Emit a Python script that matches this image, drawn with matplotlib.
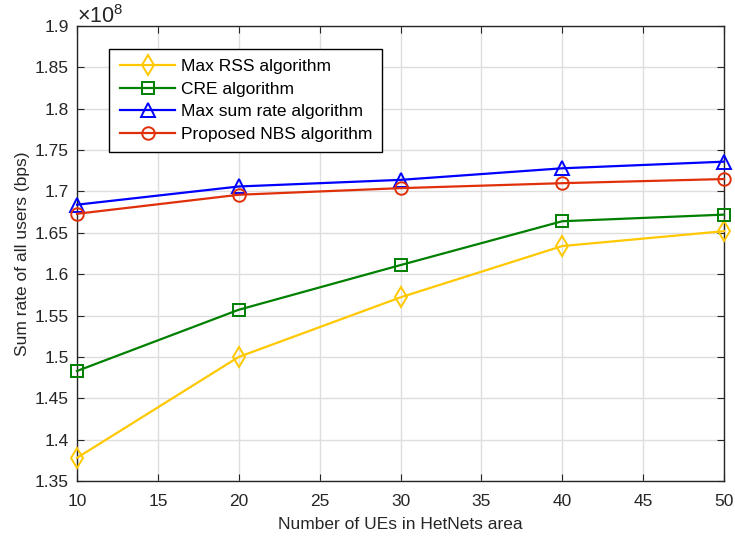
import numpy as np
import matplotlib.pyplot as plt
from matplotlib.ticker import MultipleLocator, FuncFormatter

plt.rcParams['font.family'] = ['Liberation Sans', 'DejaVu Sans']
plt.rcParams['mathtext.fontset'] = 'custom'
plt.rcParams['mathtext.rm'] = 'Liberation Sans'

# number of UEs and sum rate (in units of 1e8 bps)
num_ues = [10, 20, 30, 40, 50]
max_rss = [1.378, 1.500, 1.572, 1.634, 1.652]
cre = [1.483, 1.557, 1.611, 1.664, 1.672]
max_sum_rate = [1.684, 1.706, 1.714, 1.728, 1.736]
proposed_nbs = [1.673, 1.696, 1.704, 1.710, 1.715]

labels = ['Max RSS algorithm', 'CRE algorithm',
          'Max sum rate algorithm', 'Proposed NBS algorithm']
series = [max_rss, cre, max_sum_rate, proposed_nbs]
colors = ['#FFC800', '#008000', '#0000FF', '#E0300A']
markers = ['d', 's', '^', 'o']
msizes = [10, 8, 10, 9]

fig = plt.figure(figsize=(7.35, 5.41), dpi=100)
ax = fig.add_axes([77 / 735, 1 - 481 / 541, 647 / 735, 455 / 541])

for vals, lab, c, m, ms in zip(series, labels, colors, markers, msizes):
    ax.plot(num_ues, np.array(vals) * 1e8, color=c, marker=m, markersize=ms,
            markerfacecolor='none', markeredgewidth=1.4, linewidth=1.6,
            label=lab, clip_on=False, zorder=3)

ax.set_xlim(10, 50)
ax.set_ylim(1.35e8, 1.9e8)
ax.xaxis.set_major_locator(MultipleLocator(5))
ax.yaxis.set_major_locator(MultipleLocator(0.05e8))
ax.yaxis.set_major_formatter(FuncFormatter(lambda v, p: ('%.2f' % (v / 1e8)).rstrip('0').rstrip('.')))
# scale factor above the y axis
ax.text(0.0, 1.007, r'$\times\mathregular{10^{8}}$', transform=ax.transAxes,
        fontsize=15.5, color='#262626', ha='left', va='baseline')

ax.grid(True, color='#DEDEDE', linewidth=1.0)
ax.set_axisbelow(True)
ax.tick_params(direction='in', top=True, right=True, labelsize=12.5,
               colors='#262626', length=5)
ax.tick_params(axis='x', pad=9)
ax.tick_params(axis='y', pad=6)
for s in ax.spines.values():
    s.set_color('#262626')
    s.set_linewidth(1.0)

ax.set_xlabel('Number of UEs in HetNets area', fontsize=12.5, color='#262626',
              labelpad=6)
ax.set_ylabel('Sum rate of all users (bps)', fontsize=12.5, color='#262626',
              labelpad=3)

leg = ax.legend(loc='upper left', bbox_to_anchor=(0.050, 0.950), fontsize=12.5,
                fancybox=False, framealpha=1, edgecolor='black',
                handlelength=3.2, borderpad=0.6, labelspacing=0.42,
                handletextpad=0.3, borderaxespad=0)
leg.get_frame().set_linewidth(1.0)

fig.savefig('out.png', dpi=100)
